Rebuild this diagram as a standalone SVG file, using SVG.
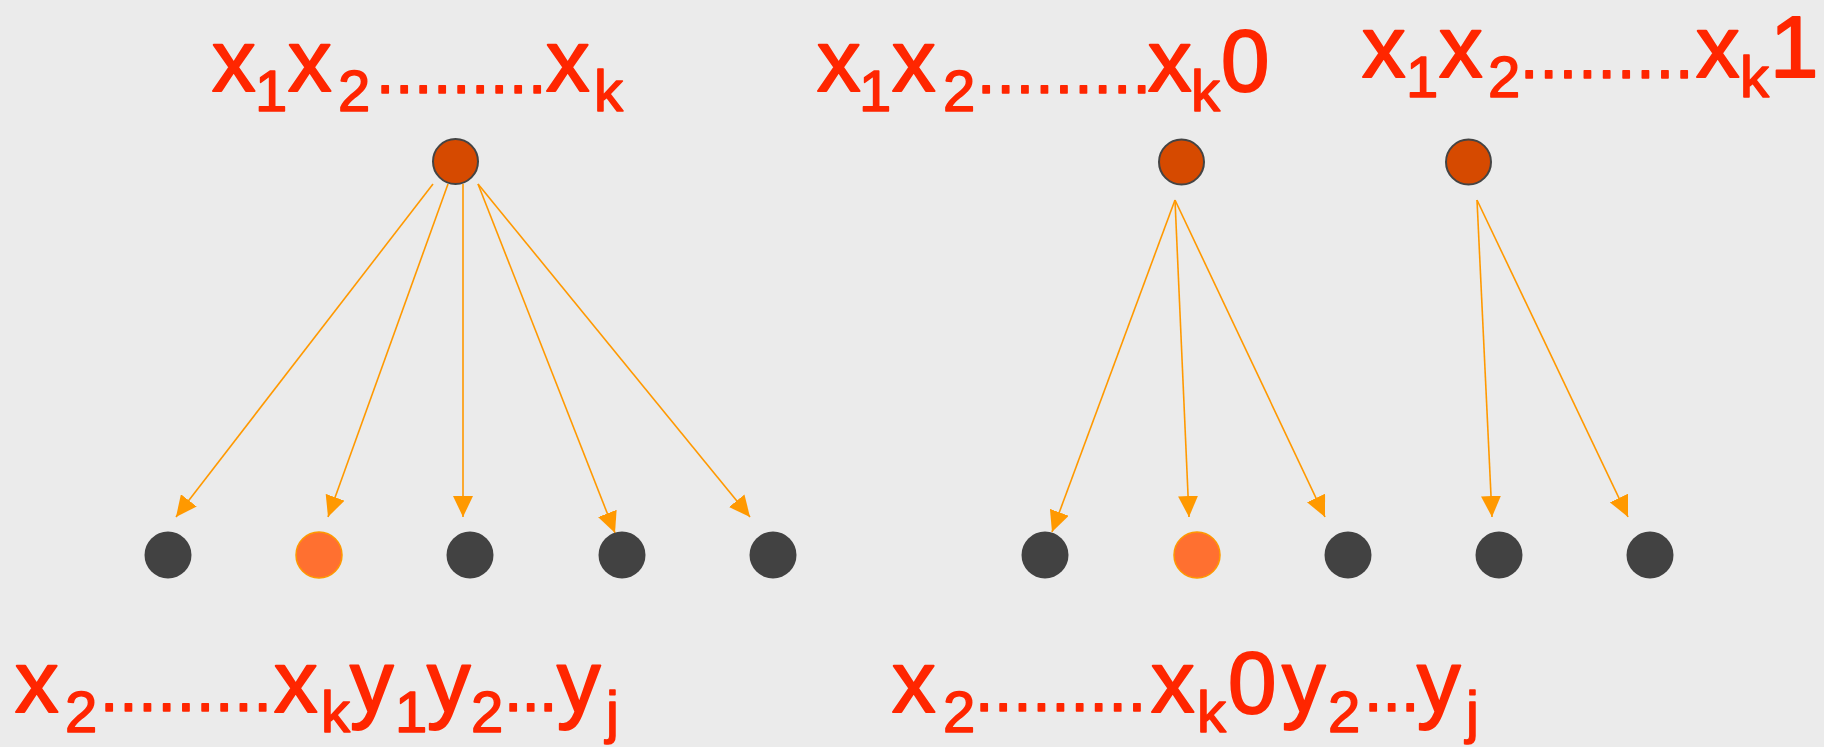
<svg xmlns="http://www.w3.org/2000/svg" width="1824" height="747" viewBox="0 0 1824 747">
<style>
.t{font-family:"Liberation Sans",Arial,sans-serif;fill:#FF2600;stroke:#FF2600;stroke-linejoin:round}
.m{font-size:87px;stroke-width:2}
.s{font-size:58px;stroke-width:1.5}
.d{font-size:66px;stroke-width:1.5}
.top{fill:#D64A00;stroke:#444444;stroke-width:2}
.dark{fill:#424242}
.hl{fill:#FF7030;stroke:#FF9900;stroke-width:1.5}
.e{stroke:#FF9900;stroke-width:1.6;fill:none;marker-end:url(#ah)}
</style>
<defs>
<marker id="ah" markerUnits="userSpaceOnUse" markerWidth="22" markerHeight="20" refX="21" refY="10" orient="auto" viewBox="0 0 22 20">
<path d="M0,0 L21,10 L0,20 z" fill="#FF9900"/>
</marker>
</defs>
<rect width="1824" height="747" fill="#EBEBEB"/>

<g id="labels">
<text class="t"><tspan class="m" x="212" y="91">x</tspan><tspan class="s" x="255" y="111">1</tspan><tspan class="m" x="288" y="91">x</tspan><tspan class="s" x="338" y="111">2</tspan><tspan class="d" x="376" y="93" letter-spacing="0.65">.........</tspan><tspan class="m" x="546" y="91">x</tspan><tspan class="s" x="594" y="111">k</tspan></text>

<text class="t"><tspan class="m" x="817" y="91">x</tspan><tspan class="s" x="859" y="111">1</tspan><tspan class="m" x="892" y="91">x</tspan><tspan class="s" x="943" y="111">2</tspan><tspan class="d" x="977" y="93" letter-spacing="1.1">.........</tspan><tspan class="m" x="1148" y="91">x</tspan><tspan class="s" x="1191" y="111">k</tspan><tspan class="m" x="1221" y="91">0</tspan></text>

<text class="t"><tspan class="m" x="1362" y="77">x</tspan><tspan class="s" x="1406" y="97">1</tspan><tspan class="m" x="1439" y="77">x</tspan><tspan class="s" x="1488" y="97">2</tspan><tspan class="d" x="1520" y="78" letter-spacing="1.05">.........</tspan><tspan class="m" x="1696" y="77">x</tspan><tspan class="s" x="1740" y="97">k</tspan><tspan class="m" x="1770" y="77">1</tspan></text>

<text class="t"><tspan class="m" x="15" y="712">x</tspan><tspan class="s" x="65" y="732">2</tspan><tspan class="d" x="100" y="711" letter-spacing="0.85">.........</tspan><tspan class="m" x="274" y="712">x</tspan><tspan class="s" x="321" y="732">k</tspan><tspan class="m" x="350" y="712">y</tspan><tspan class="s" x="395" y="732">1</tspan><tspan class="m" x="427" y="712">y</tspan><tspan class="s" x="471" y="732">2</tspan><tspan class="d" x="504" y="711" letter-spacing="-0.85">...</tspan><tspan class="m" x="557" y="712">y</tspan><tspan class="s" x="606" y="732">j</tspan></text>

<text class="t"><tspan class="m" x="892" y="712">x</tspan><tspan class="s" x="943" y="732">2</tspan><tspan class="d" x="975" y="711" letter-spacing="0.75">.........</tspan><tspan class="m" x="1151" y="712">x</tspan><tspan class="s" x="1197" y="732">k</tspan><tspan class="m" x="1228" y="713">0</tspan><tspan class="m" x="1282" y="712">y</tspan><tspan class="s" x="1328" y="732">2</tspan><tspan class="d" x="1364" y="711" letter-spacing="0.15">...</tspan><tspan class="m" x="1417" y="712">y</tspan><tspan class="s" x="1466" y="732">j</tspan></text>
</g>

<g id="connectors">
<line class="e" x1="433" y1="184" x2="176" y2="517"/>
<line class="e" x1="448" y1="184" x2="328" y2="517"/>
<line class="e" x1="463" y1="184" x2="463" y2="517"/>
<line class="e" x1="478" y1="184" x2="615" y2="533"/>
<line class="e" x1="478" y1="184" x2="750" y2="517"/>
<line class="e" x1="1175" y1="200" x2="1052" y2="532"/>
<line class="e" x1="1175" y1="200" x2="1189" y2="517"/>
<line class="e" x1="1175" y1="200" x2="1325" y2="517"/>
<line class="e" x1="1477" y1="200" x2="1492" y2="517"/>
<line class="e" x1="1477" y1="200" x2="1628" y2="517"/>
</g>

<g id="root1"><circle class="top" cx="455.5" cy="161.5" r="22.5"/></g>
<g id="root2"><circle class="top" cx="1181.5" cy="162" r="22.5"/></g>
<g id="root3"><circle class="top" cx="1468.5" cy="162" r="22.5"/></g>

<g id="c1"><circle class="dark" cx="168" cy="555" r="23.5"/></g>
<g id="c2"><circle class="hl" cx="319" cy="555" r="23"/></g>
<g id="c3"><circle class="dark" cx="470" cy="555" r="23.5"/></g>
<g id="c4"><circle class="dark" cx="622" cy="555" r="23.5"/></g>
<g id="c5"><circle class="dark" cx="773" cy="555" r="23.5"/></g>
<g id="c6"><circle class="dark" cx="1045" cy="555" r="23.5"/></g>
<g id="c7"><circle class="hl" cx="1197" cy="555" r="23"/></g>
<g id="c8"><circle class="dark" cx="1348" cy="555" r="23.5"/></g>
<g id="c9"><circle class="dark" cx="1499" cy="555" r="23.5"/></g>
<g id="c10"><circle class="dark" cx="1650" cy="555" r="23.5"/></g>
</svg>
